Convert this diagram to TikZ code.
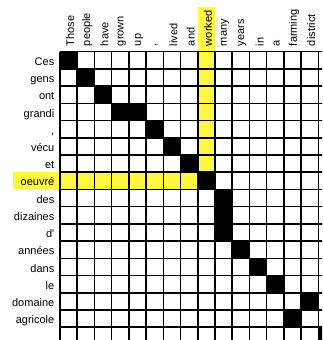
\documentclass[tikz,border=0pt]{standalone}
\usepackage{fontspec}
\setmainfont{Liberation Sans}
\definecolor{hl}{RGB}{255,247,66}
\begin{document}
\begin{tikzpicture}[x=1pt,y=-1pt,
  collabel/.style={rotate=90,anchor=west,inner sep=0pt,font=\fontsize{11}{13}\selectfont},
  rowlabel/.style={anchor=base east,inner sep=0pt,font=\fontsize{11}{13}\selectfont},
  gridline/.style={line width=1.5pt,black},
  hit/.style={fill=black}]
\def\X{60}\def\Y{51.7}\def\c{17.22}
\useasboundingbox (0,0) rectangle (322,340);
\clip (0,0) rectangle (322,340);
% highlights
\fill[hl] ({\X+8*\c},7) rectangle ({\X+9*\c},{\Y+7*\c});
\fill[hl] (13.3,{\Y+7*\c}) rectangle ({\X+8*\c},{\Y+8*\c});
% alignment cells (row,col), 0-indexed
\foreach \r/\k in {0/0,1/1,2/2,3/3,3/4,4/5,5/6,6/7,7/8,8/9,9/9,10/9,11/10,12/11,13/12,14/14,15/13,16/15}
  \fill[hit] ({\X+\k*\c},{\Y+\r*\c}) rectangle ({\X+(\k+1)*\c},{\Y+(\r+1)*\c});
% grid
\foreach \i in {0,...,16}
  \draw[gridline] ({\X+\i*\c},\Y) -- ({\X+\i*\c},345);
\foreach \j in {0,...,17}
  \draw[gridline] (\X,{\Y+\j*\c}) -- (330,{\Y+\j*\c});
% column labels
\foreach \w [count=\i from 0] in {Those,people,have,grown,up,{,},lived,and,worked,many,years,in,a,farming,district}
  \node[collabel] (col\i) at ({\X+(\i+0.5)*\c+1.5},{\Y-5.5}) {\w};
% row labels
\foreach \w [count=\i from 0] in {Ces,gens,ont,grandi,{,},vécu,et,oeuvré,des,dizaines,d\textquotesingle,années,dans,le,domaine,agricole}
  \node[rowlabel] (row\i) at ({\X-5.5},{\Y+(\i+1)*\c-3.5}) {\w};
\end{tikzpicture}
\end{document}
